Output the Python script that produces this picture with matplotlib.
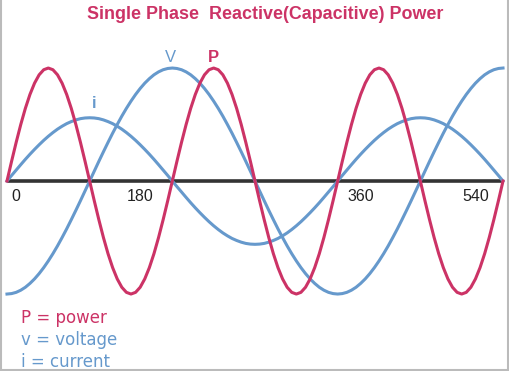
import matplotlib
matplotlib.use('Agg')
import matplotlib.pyplot as plt
from matplotlib.lines import Line2D

RED = '#cc3366'
BLUE = '#6699cc'

# angle in degrees, 5 degree steps from 0 to 540
deg = list(range(0, 545, 5))

power = [
	0, .174, .342, .500, .643, .766, .866, .940, .985, 1.000, .985, .940, .866, .766, .643, .500, .342, .174,
	0, -.174, -.342, -.500, -.643, -.766, -.866, -.940, -.985, -1.000, -.985, -.940, -.866, -.766, -.643, -.500, -.342, -.174,
	0, .174, .342, .500, .643, .766, .866, .940, .985, 1.000, .985, .940, .866, .766, .643, .500, .342, .174,
	0, -.174, -.342, -.500, -.643, -.766, -.866, -.940, -.985, -1.000, -.985, -.940, -.866, -.766, -.643, -.500, -.342, -.174,
	0, .174, .342, .500, .643, .766, .866, .940, .985, 1.000, .985, .940, .866, .766, .643, .500, .342, .174,
	0, -.174, -.342, -.500, -.643, -.766, -.866, -.940, -.985, -1.000, -.985, -.940, -.866, -.766, -.643, -.500, -.342, -.174,
	0]

voltage = [
	-1.000, -.996, -.985, -.966, -.940, -.906, -.866, -.819, -.766, -.707, -.643, -.574, -.500, -.423, -.342, -.259, -.174, -.087,
	0, .087, .174, .259, .342, .423, .500, .574, .643, .707, .766, .819, .866, .906, .940, .966, .985, .996,
	1.000, .996, .985, .966, .940, .906, .866, .819, .766, .707, .643, .574, .500, .423, .342, .259, .174, .087,
	0, -.087, -.174, -.259, -.342, -.423, -.500, -.574, -.643, -.707, -.766, -.819, -.866, -.906, -.940, -.966, -.985, -.996,
	-1.000, -.996, -.985, -.966, -.940, -.906, -.866, -.819, -.766, -.707, -.643, -.574, -.500, -.423, -.342, -.259, -.174, -.087,
	0, .087, .174, .259, .342, .423, .500, .574, .643, .707, .766, .819, .866, .906, .940, .966, .985, .996,
	1.000]

current = [
	0, .049, .097, .145, .192, .237, .280, .321, .360, .396, .429, .459, .485, .508, .526, .541, .552, .558,
	.560, .558, .552, .541, .526, .508, .485, .459, .429, .396, .360, .321, .280, .237, .192, .145, .097, .049,
	0, -.049, -.097, -.145, -.192, -.237, -.280, -.321, -.360, -.396, -.429, -.459, -.485, -.508, -.526, -.541, -.552, -.558,
	-.560, -.558, -.552, -.541, -.526, -.508, -.485, -.459, -.429, -.396, -.360, -.321, -.280, -.237, -.192, -.145, -.097, -.049,
	0, .049, .097, .145, .192, .237, .280, .321, .360, .396, .429, .459, .485, .508, .526, .541, .552, .558,
	.560, .558, .552, .541, .526, .508, .485, .459, .429, .396, .360, .321, .280, .237, .192, .145, .097, .049,
	0]

tick_pos = [10, 145, 385, 510]
tick_labels = ['0', '180', '360', '540']

fig = plt.figure(figsize=(5.1, 3.71), dpi=100)
ax = fig.add_axes([0, 0, 1, 1])
ax.set_xlim(-7.6, 547.6)
ax.set_ylim(-1.681, 1.602)
ax.axis('off')

ax.plot([0, 540], [0, 0], color='#333333', lw=2.6, zorder=1, solid_capstyle='butt')
ax.plot(deg, current, color=BLUE, lw=2.2, zorder=2)
ax.plot(deg, voltage, color=BLUE, lw=2.2, zorder=2)
ax.plot(deg, power, color=RED, lw=2.2, zorder=3)

for p, t in zip(tick_pos, tick_labels):
	ax.text(p, -0.14, t, ha='center', va='center', fontsize=11.5,
		family='Liberation Sans', color='#222222')

ax.text(178, 1.09, 'V', ha='center', va='center', fontsize=12,
	family='Liberation Sans', color=BLUE)
ax.text(225, 1.09, 'P', ha='center', va='center', fontsize=12, fontweight='bold',
	family='Liberation Sans', color=RED)
ax.text(95, 0.69, 'i', ha='center', va='center', fontsize=12, fontweight='bold',
	family='Liberation Sans', color=BLUE)

fig.text(0.52, 0.962, 'Single Phase  Reactive(Capacitive) Power', ha='center', va='center',
	fontsize=12.9, fontweight='bold', family='Liberation Sans', color=RED)

legend = [('P = power', RED), ('v = voltage', BLUE), ('i = current', BLUE)]
for k, (s, c) in enumerate(legend):
	fig.text(0.041, 1 - (318 + 22 * k) / 371, s, ha='left', va='center',
		fontsize=12, family='DejaVu Sans', color=c)

# thin grey frame (left, right, bottom)
for xs, ys in [([0.001, 0.001], [0, 1]), ([0.997, 0.997], [0, 1]), ([0, 1], [0.002, 0.002])]:
	fig.add_artist(Line2D(xs, ys, color='#bbbbbb', lw=1.5, transform=fig.transFigure))

plt.savefig('out.png')
